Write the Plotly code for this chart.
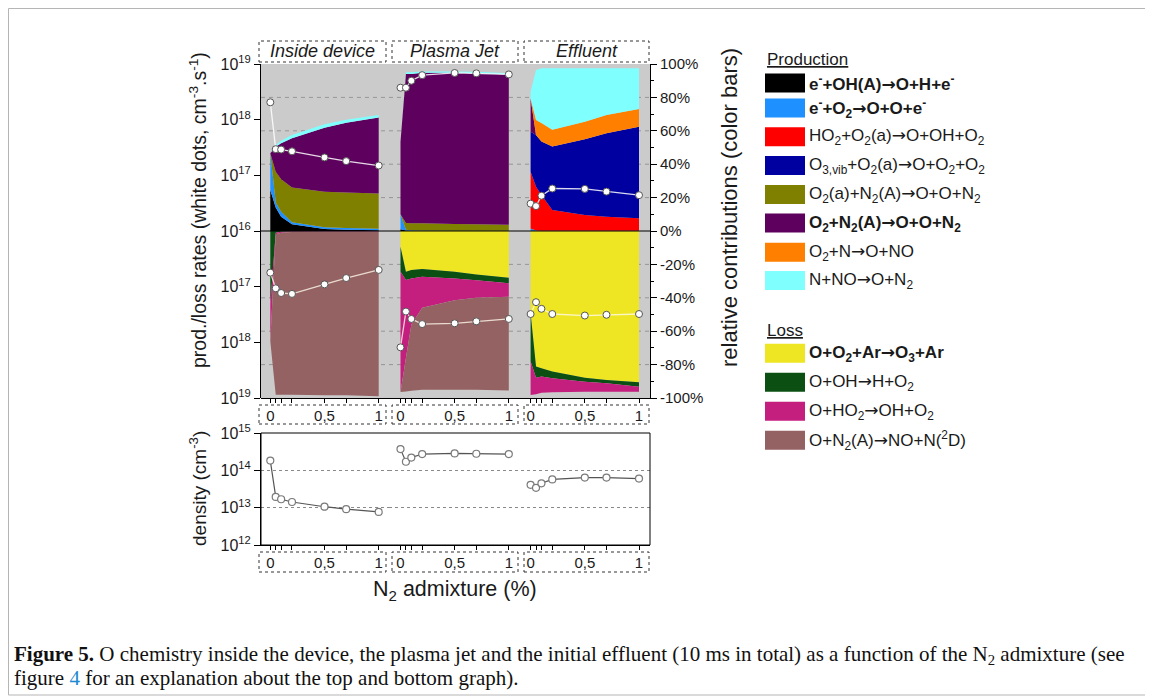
import plotly.graph_objects as go

# The page body adds an 8 px margin, so the figure is 8 px smaller on each
# axis and every reference pixel position is shifted by that offset.
OFF = 8
FW, FH = 1145, 689


def px(x):
    return (x - OFF) / FW


def py(y):
    return 1 - (y - OFF) / FH


# ---------------- data ----------------
N2 = [0, 0.05, 0.1, 0.2, 0.5, 0.7, 1]
N2_ticktext = ["0", "", "", "", "0,5", "", "1"]
section_names = ["Inside device", "Plasma Jet", "Effluent"]

# production contributions (%), stacked upward
inside_e_OHA = [24.5, 14, 8.6, 4.0, 1.2, 0.8, 0.5]
inside_e_O2 = [22, 3, 3, 1.3, 1.1, 1.0, 0.9]
inside_HO2_O2a = [0, 0, 0, 0, 0, 0, 0]
inside_O3vib_O2a = [0, 0, 0, 0, 0, 0, 0]
inside_O2a_N2A = [0, 18.5, 19.4, 20.7, 21.2, 21.2, 21.1]
inside_O2_N2A = [0, 15, 21.5, 29.5, 38.4, 41.8, 45.4]
inside_O2_N = [0, 0, 0, 0, 0, 0, 0]
inside_N_NO = [0, 1, 1.5, 2, 2, 1.8, 1.6]

jet_e_OHA = [1, 0.3, 0.2, 0.1, 0.1, 0.1, 0.1]
jet_e_O2 = [9, 0.5, 0.3, 0.2, 0.1, 0.1, 0.1]
jet_HO2_O2a = [0, 0, 0, 0, 0, 0, 0]
jet_O3vib_O2a = [0, 0, 0, 0, 0, 0, 0]
jet_O2a_N2A = [0, 4, 4.2, 4.3, 4.0, 3.8, 3.5]
jet_O2_N2A = [43.5, 89.2, 89.3, 90.1, 90.5, 90.5, 90.0]
jet_O2_N = [0, 0, 0, 0, 0, 0, 0]
jet_N_NO = [0, 1, 1, 0.8, 0.8, 0.8, 0.8]

eff_e_OHA = [0, 0, 0, 0, 0, 0, 0]
eff_e_O2 = [1.5, 0.3, 0.2, 0.1, 0.1, 0.1, 0.1]
eff_HO2_O2a = [34, 26.2, 21.4, 12.5, 9.5, 8.5, 7.5]
eff_O3vib_O2a = [24, 31, 32, 38, 45.3, 49.9, 54.9]
eff_O2a_N2A = [0, 0, 0, 0, 0, 0, 0]
eff_O2_N2A = [19.9, 0, 0, 0, 0, 0, 0]
eff_O2_N = [0, 9, 11, 10, 10.5, 11, 10.5]
eff_N_NO = [4, 29.9, 32.9, 36.9, 32, 27.9, 24.4]

# loss contributions (%), stacked downward
inside_O_O2_Ar = [0, 0, 0, 0, 0, 0, 0]
inside_O_OH = [44, 1, 0.5, 0.3, 0.2, 0.2, 0.2]
inside_O_HO2 = [22, 1, 0.5, 0.3, 0.2, 0.2, 0.2]
inside_O_N2A = [0, 96, 97, 97.5, 98, 98, 98.5]

jet_O_O2_Ar = [9.4, 24.4, 23.4, 22.8, 24.4, 26, 28]
jet_O_OH = [15, 5, 5, 4.6, 4, 3.5, 3.3]
jet_O_HO2 = [72, 46.7, 27.7, 18.6, 13, 10.5, 8]
jet_O_N2A = [0, 20, 39.5, 49, 53.7, 55, 56.2]

eff_O_O2_Ar = [49.3, 81.2, 82.2, 84.2, 87.8, 89.2, 90.6]
eff_O_OH = [28.9, 6.6, 5, 4, 2.4, 2, 2.6]
eff_O_HO2 = [20, 10, 9.6, 8.4, 6, 5, 3]
eff_O_N2A = [0, 0, 0, 0, 0, 0, 0]

# total production / loss rates (white dots, cm-3 s-1)
inside_prod_rate = [2.05e18, 2.95e17, 2.9e17, 2.7e17, 2.1e17, 1.8e17, 1.5e17]
inside_loss_rate = [5.6e16, 1.07e17, 1.3e17, 1.35e17, 9.1e16, 7.0e16, 5.0e16]
jet_prod_rate = [3.75e18, 3.75e18, 5.0e18, 6.3e18, 6.9e18, 6.8e18, 6.5e18]
jet_loss_rate = [1.23e18, 2.8e17, 3.8e17, 4.7e17, 4.55e17, 4.2e17, 3.8e17]
eff_prod_rate = [3.1e16, 2.8e16, 4.3e16, 5.8e16, 5.7e16, 5.1e16, 4.4e16]
eff_loss_rate = [3.1e17, 1.9e17, 2.5e17, 3.1e17, 3.3e17, 3.2e17, 3.1e17]

# O density (cm-3)
inside_density = [1.83e14, 1.94e13, 1.68e13, 1.42e13, 1.06e13, 9.1e12, 7.7e12]
jet_density = [3.7e14, 1.7e14, 2.2e14, 2.72e14, 2.83e14, 2.78e14, 2.72e14]
eff_density = [4.1e13, 3.4e13, 4.5e13, 5.7e13, 6.4e13, 6.4e13, 6.0e13]

ARROW = "<span style='font-family:DejaVu Sans'>→</span>"
prod_labels = [
    f"<b>e<sup>-</sup>+OH(A){ARROW}O+H+e<sup>-</sup></b>",
    f"<b>e<sup>-</sup>+O<sub>2</sub>{ARROW}O+O+e<sup>-</sup></b>",
    f"HO<sub>2</sub>+O<sub>2</sub>(a){ARROW}O+OH+O<sub>2</sub>",
    f"O<sub>3,vib</sub>+O<sub>2</sub>(a){ARROW}O+O<sub>2</sub>+O<sub>2</sub>",
    f"O<sub>2</sub>(a)+N<sub>2</sub>(A){ARROW}O+O+N<sub>2</sub>",
    f"<b>O<sub>2</sub>+N<sub>2</sub>(A){ARROW}O+O+N<sub>2</sub></b>",
    f"O<sub>2</sub>+N{ARROW}O+NO",
    f"N+NO{ARROW}O+N<sub>2</sub>",
]
loss_labels = [
    f"<b>O+O<sub>2</sub>+Ar{ARROW}O<sub>3</sub>+Ar</b>",
    f"O+OH{ARROW}H+O<sub>2</sub>",
    f"O+HO<sub>2</sub>{ARROW}OH+O<sub>2</sub>",
    f"O+N<sub>2</sub>(A){ARROW}NO+N(<sup>2</sup>D)",
]
prod_colors = ["#000000", "#1E90FF", "#FF0000", "#0000A0",
               "#808000", "#5E005E", "#FF8000", "#80FFFF"]
loss_colors = ["#EEE622", "#0B4F12", "#C41E7E", "#946262"]

sections = [
    dict(prod=[inside_e_OHA, inside_e_O2, inside_HO2_O2a, inside_O3vib_O2a,
               inside_O2a_N2A, inside_O2_N2A, inside_O2_N, inside_N_NO],
         loss=[inside_O_O2_Ar, inside_O_OH, inside_O_HO2, inside_O_N2A],
         prate=inside_prod_rate, lrate=inside_loss_rate, dens=inside_density),
    dict(prod=[jet_e_OHA, jet_e_O2, jet_HO2_O2a, jet_O3vib_O2a,
               jet_O2a_N2A, jet_O2_N2A, jet_O2_N, jet_N_NO],
         loss=[jet_O_O2_Ar, jet_O_OH, jet_O_HO2, jet_O_N2A],
         prate=jet_prod_rate, lrate=jet_loss_rate, dens=jet_density),
    dict(prod=[eff_e_OHA, eff_e_O2, eff_HO2_O2a, eff_O3vib_O2a,
               eff_O2a_N2A, eff_O2_N2A, eff_O2_N, eff_N_NO],
         loss=[eff_O_O2_Ar, eff_O_OH, eff_O_HO2, eff_O_N2A],
         prate=eff_prod_rate, lrate=eff_loss_rate, dens=eff_density),
]

# ---------------- layout geometry (reference pixels) ----------------
x_domains_px = [(261, 389), (389, 521), (521, 650)]
x_zero_one_px = [(270.3, 378.7), (400.5, 508.8), (530.6, 639.0)]
TOP, ZERO, BOT = 64, 231, 398
D_TOP, D_BOT = 433, 545

FONT = "Arial, Liberation Sans, sans-serif"
TXT = "#1a1a1a"

fig = go.Figure()

# stacked areas
for i, sec in enumerate(sections):
    xa = "x" if i == 0 else f"x{i+1}"
    for vals, col in zip(sec["prod"], prod_colors):
        fig.add_trace(go.Scatter(x=N2, y=vals, xaxis=xa, yaxis="y",
                                 stackgroup=f"prod{i}", mode="none",
                                 fillcolor=col, showlegend=False,
                                 hoverinfo="skip"))
    for vals, col in zip(sec["loss"], loss_colors):
        fig.add_trace(go.Scatter(x=N2, y=[-v for v in vals], xaxis=xa, yaxis="y",
                                 stackgroup=f"loss{i}", mode="none",
                                 fillcolor=col, showlegend=False,
                                 hoverinfo="skip"))

# white dots (rates) and density
for i, sec in enumerate(sections):
    xa = "x" if i == 0 else f"x{i+1}"
    xb = f"x{i+4}"
    fig.add_trace(go.Scatter(x=N2, y=sec["prate"], xaxis=xa, yaxis="y2",
                             mode="lines+markers",
                             line=dict(color="rgba(255,255,255,0.85)", width=1.3),
                             marker=dict(size=7, color="white",
                                         line=dict(color="#555555", width=1)),
                             showlegend=False, hoverinfo="skip"))
    fig.add_trace(go.Scatter(x=N2, y=sec["lrate"], xaxis=xa, yaxis="y3",
                             mode="lines+markers",
                             line=dict(color="rgba(255,250,235,0.8)", width=1.3),
                             marker=dict(size=7, color="white",
                                         line=dict(color="#555555", width=1)),
                             showlegend=False, hoverinfo="skip"))
    fig.add_trace(go.Scatter(x=N2, y=sec["dens"], xaxis=xb, yaxis="y4",
                             mode="lines+markers",
                             line=dict(color="#555555", width=1.2),
                             marker=dict(size=7, color="white",
                                         line=dict(color="#7a7a7a", width=1.2)),
                             showlegend=False, hoverinfo="skip"))

layout = dict(
    template="none",
    width=FW, height=FH, autosize=False,
    margin=dict(l=0, r=0, t=0, b=0, pad=0, autoexpand=False),
    paper_bgcolor="white", plot_bgcolor="rgba(0,0,0,0)",
    font=dict(family=FONT, color=TXT),
    showlegend=False,
)

for i, ((d0, d1), (z0, z1)) in enumerate(zip(x_domains_px, x_zero_one_px)):
    scale = z1 - z0
    rng = [(d0 - z0) / scale, (d1 - z0) / scale]
    common = dict(domain=[px(d0), px(d1)], range=rng, showgrid=False,
                  zeroline=False, showline=True, linecolor="black", linewidth=1,
                  ticks="outside", ticklen=4, tickcolor="black", automargin=False,
                  tickvals=N2, ticktext=N2_ticktext,
                  tickfont=dict(size=15, family=FONT, color=TXT))
    top_name = "xaxis" if i == 0 else f"xaxis{i+1}"
    layout[top_name] = dict(common, anchor="y")
    layout[f"xaxis{i+4}"] = dict(common, anchor="y4")

pct_vals = [-100, -80, -60, -40, -20, 0, 20, 40, 60, 80, 100]
layout["yaxis"] = dict(
    domain=[py(BOT), py(TOP)], range=[-100, 100], anchor="x3", side="right",
    showline=True, linecolor="black", linewidth=1, showgrid=False, zeroline=False,
    ticks="outside", ticklen=6, tickcolor="black", automargin=False,
    tickvals=pct_vals, ticktext=[f"{v}%" for v in pct_vals],
    tickfont=dict(size=15, family=FONT, color=TXT),
    minor=dict(dtick=10, tick0=0, ticks="outside", ticklen=3, tickcolor="black",
               showgrid=False),
)
dec_text = {16: "10<sup>16</sup>", 17: "10<sup>17</sup>",
            18: "10<sup>18</sup>", 19: "10<sup>19</sup>"}
layout["yaxis2"] = dict(
    type="log", domain=[py(ZERO), py(TOP)], range=[16, 19], anchor="x", side="left",
    showline=True, linecolor="black", linewidth=1, showgrid=False, zeroline=False,
    ticks="outside", ticklen=6, tickcolor="black", automargin=False,
    tickvals=[1e16, 1e17, 1e18, 1e19], ticktext=[dec_text[k] for k in (16, 17, 18, 19)],
    tickfont=dict(size=16, family=FONT, color=TXT),
)
layout["yaxis3"] = dict(
    type="log", domain=[py(BOT), py(ZERO)], range=[19, 16], anchor="x", side="left",
    showline=True, linecolor="black", linewidth=1, showgrid=False, zeroline=False,
    ticks="outside", ticklen=6, tickcolor="black", automargin=False,
    tickvals=[1e17, 1e18, 1e19], ticktext=[dec_text[k] for k in (17, 18, 19)],
    tickfont=dict(size=16, family=FONT, color=TXT),
)
layout["yaxis4"] = dict(
    type="log", domain=[py(D_BOT), py(D_TOP)], range=[12, 15], anchor="x4", side="left",
    showline=True, linecolor="black", linewidth=1,
    showgrid=True, gridcolor="#8a8a8a", griddash="dot", gridwidth=1, zeroline=False,
    ticks="outside", ticklen=6, tickcolor="black", automargin=False,
    tickvals=[1e12, 1e13, 1e14, 1e15],
    ticktext=["10<sup>12</sup>", "10<sup>13</sup>", "10<sup>14</sup>", "10<sup>15</sup>"],
    tickfont=dict(size=16, family=FONT, color=TXT),
)

shapes = []
# outer frame
shapes.append(dict(type="rect", xref="paper", yref="paper",
                   x0=px(8.5), x1=px(1149), y0=py(695), y1=py(8.5),
                   line=dict(color="#b5b5b5", width=1), layer="below"))
# gray background of top panel
shapes.append(dict(type="rect", xref="paper", yref="paper",
                   x0=px(261), x1=px(650), y0=py(BOT), y1=py(TOP),
                   fillcolor="#cbcbcb", line=dict(width=0), layer="below"))
# dashed grid lines at percentages
for v in [-80, -60, -40, -20, 20, 40, 60, 80]:
    shapes.append(dict(type="line", xref="paper", yref="y",
                       x0=px(261), x1=px(650), y0=v, y1=v,
                       line=dict(color="#969696", width=1, dash="4px,4px"),
                       layer="below"))
# zero line
shapes.append(dict(type="line", xref="paper", yref="y",
                   x0=px(261), x1=px(650), y0=0, y1=0,
                   line=dict(color="black", width=1.2), layer="above"))
# bottom panel frame
shapes.append(dict(type="rect", xref="paper", yref="paper",
                   x0=px(261), x1=px(650), y0=py(D_BOT), y1=py(D_TOP),
                   line=dict(color="black", width=1), layer="above"))
# header boxes and tick-label boxes
box_x = [(259, 386), (392, 518), (524, 649)]
for (b0, b1) in box_x:
    for (t, b) in [(41, 62), (405, 424), (552, 572)]:
        shapes.append(dict(type="rect", xref="paper", yref="paper",
                           x0=px(b0), x1=px(b1), y0=py(b), y1=py(t),
                           line=dict(color="#333333", width=1, dash="dot"),
                           layer="below"))

annotations = []
for (b0, b1), name in zip(box_x, section_names):
    annotations.append(dict(xref="paper", yref="paper", x=px((b0 + b1) / 2), y=py(51.5),
                            text=f"<i>{name}</i>", showarrow=False,
                            xanchor="center", yanchor="middle",
                            font=dict(size=18, family=FONT, color=TXT)))

# axis titles
annotations.append(dict(xref="paper", yref="paper", x=px(198), y=py(210),
                        text="prod./loss rates (white dots, cm<sup>-3</sup>.s<sup>-1</sup>)",
                        textangle=-90, showarrow=False, xanchor="center", yanchor="middle",
                        font=dict(size=19.5, family=FONT, color=TXT)))
annotations.append(dict(xref="paper", yref="paper", x=px(729), y=py(208),
                        text="relative contributions (color bars)",
                        textangle=-90, showarrow=False, xanchor="center", yanchor="middle",
                        font=dict(size=22, family=FONT, color=TXT)))
annotations.append(dict(xref="paper", yref="paper", x=px(198), y=py(489),
                        text="density (cm<sup>-3</sup>)",
                        textangle=-90, showarrow=False, xanchor="center", yanchor="middle",
                        font=dict(size=19, family=FONT, color=TXT)))
annotations.append(dict(xref="paper", yref="paper", x=px(455), y=py(590),
                        text="N<sub>2</sub> admixture (%)",
                        showarrow=False, xanchor="center", yanchor="middle",
                        font=dict(size=21.5, family=FONT, color=TXT)))

# custom legend
annotations.append(dict(xref="paper", yref="paper", x=px(765), y=py(59),
                        text="<u>Production</u>", showarrow=False,
                        xanchor="left", yanchor="middle",
                        font=dict(size=17, family=FONT, color=TXT)))
prod_rows = [83, 108, 136.7, 165.5, 194.5, 223, 252.2, 280.5]
for yy, lab, col in zip(prod_rows, prod_labels, prod_colors):
    shapes.append(dict(type="rect", xref="paper", yref="paper",
                       x0=px(765), x1=px(805), y0=py(yy + 9.5), y1=py(yy - 9.5),
                       fillcolor=col, line=dict(width=0)))
    annotations.append(dict(xref="paper", yref="paper", x=px(807), y=py(yy),
                            text=lab, showarrow=False, xanchor="left", yanchor="middle",
                            font=dict(size=17, family=FONT, color=TXT)))
annotations.append(dict(xref="paper", yref="paper", x=px(765), y=py(330),
                        text="<u>Loss</u>", showarrow=False,
                        xanchor="left", yanchor="middle",
                        font=dict(size=17, family=FONT, color=TXT)))
loss_rows = [353.3, 382.2, 411.2, 440.3]
for yy, lab, col in zip(loss_rows, loss_labels, loss_colors):
    shapes.append(dict(type="rect", xref="paper", yref="paper",
                       x0=px(765), x1=px(805), y0=py(yy + 9.5), y1=py(yy - 9.5),
                       fillcolor=col, line=dict(width=0)))
    annotations.append(dict(xref="paper", yref="paper", x=px(807), y=py(yy),
                            text=lab, showarrow=False, xanchor="left", yanchor="middle",
                            font=dict(size=17, family=FONT, color=TXT)))

# caption
CAP = "Liberation Serif, Times New Roman, serif"
annotations.append(dict(xref="paper", yref="paper", x=px(12), y=py(655),
                        text="<b>Figure 5.</b> O chemistry inside the device, the plasma jet and the initial "
                             "effluent (10 ms in total) as a function of the N<sub>2</sub> admixture (see",
                        showarrow=False, xanchor="left", yanchor="middle",
                        font=dict(size=21, family=CAP, color="#111111")))
annotations.append(dict(xref="paper", yref="paper", x=px(12), y=py(678),
                        text="figure <span style='color:#1f8ad2'>4</span> for an explanation about the "
                             "top and bottom graph).",
                        showarrow=False, xanchor="left", yanchor="middle",
                        font=dict(size=21, family=CAP, color="#111111")))

layout["shapes"] = shapes
layout["annotations"] = annotations
fig.update_layout(**layout)

fig.write_html("out.html")
